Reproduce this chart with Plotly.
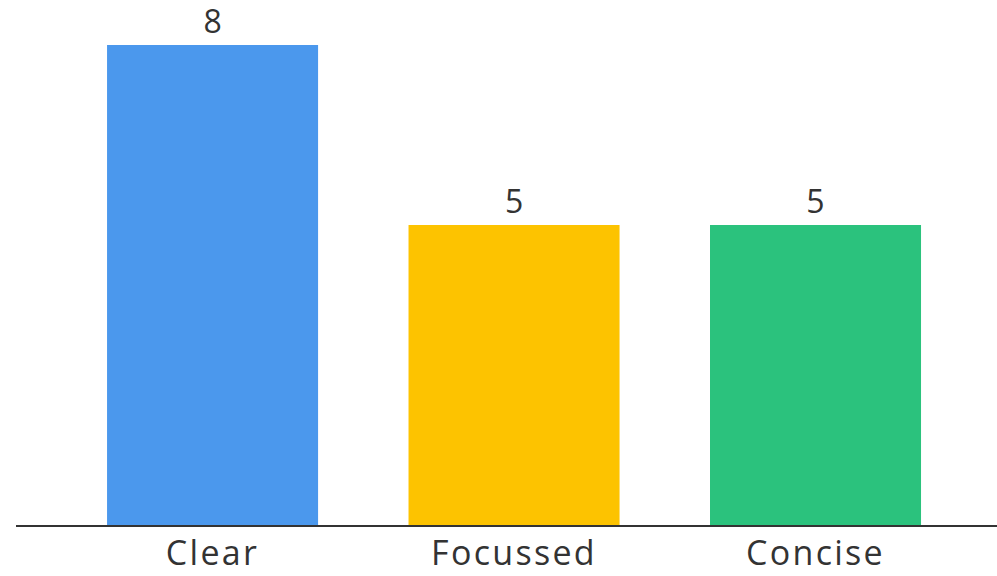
import plotly.graph_objects as go

categories = ["Clear", "Focussed", "Concise"]
counts = [8, 5, 5]
bar_colors = ["#4b98ed", "#fdc300", "#2bc27d"]

FONT = "Open Sans, Noto Sans, sans-serif"

# category labels drawn with a little extra tracking
tick_text = ['<span style="letter-spacing:2.3px">%s</span>' % c for c in categories]

fig = go.Figure(
    go.Bar(
        x=categories,
        y=counts,
        marker=dict(color=bar_colors, line=dict(width=0)),
        width=0.70,
        text=[str(v) for v in counts],
        textposition="outside",
        textfont=dict(family=FONT, size=32, color="#333333"),
        cliponaxis=False,
        hoverinfo="skip",
    )
)

fig.update_layout(
    width=997,
    height=576,
    margin=dict(l=16, r=0, t=0, b=51),
    paper_bgcolor="white",
    plot_bgcolor="white",
    showlegend=False,
    bargap=0.3,
)

fig.update_xaxes(
    range=[-0.652, 2.602],
    automargin=False,
    tickmode="array",
    tickvals=categories,
    ticktext=tick_text,
    ticklabelstandoff=-3,
    showline=True,
    linecolor="#333333",
    linewidth=2,
    showgrid=False,
    zeroline=False,
    ticks="",
    tickfont=dict(family=FONT, size=34, color="#333333"),
)
fig.update_yaxes(
    range=[0, 8.75],
    visible=False,
    showgrid=False,
    zeroline=False,
)

fig.write_html("out.html")
